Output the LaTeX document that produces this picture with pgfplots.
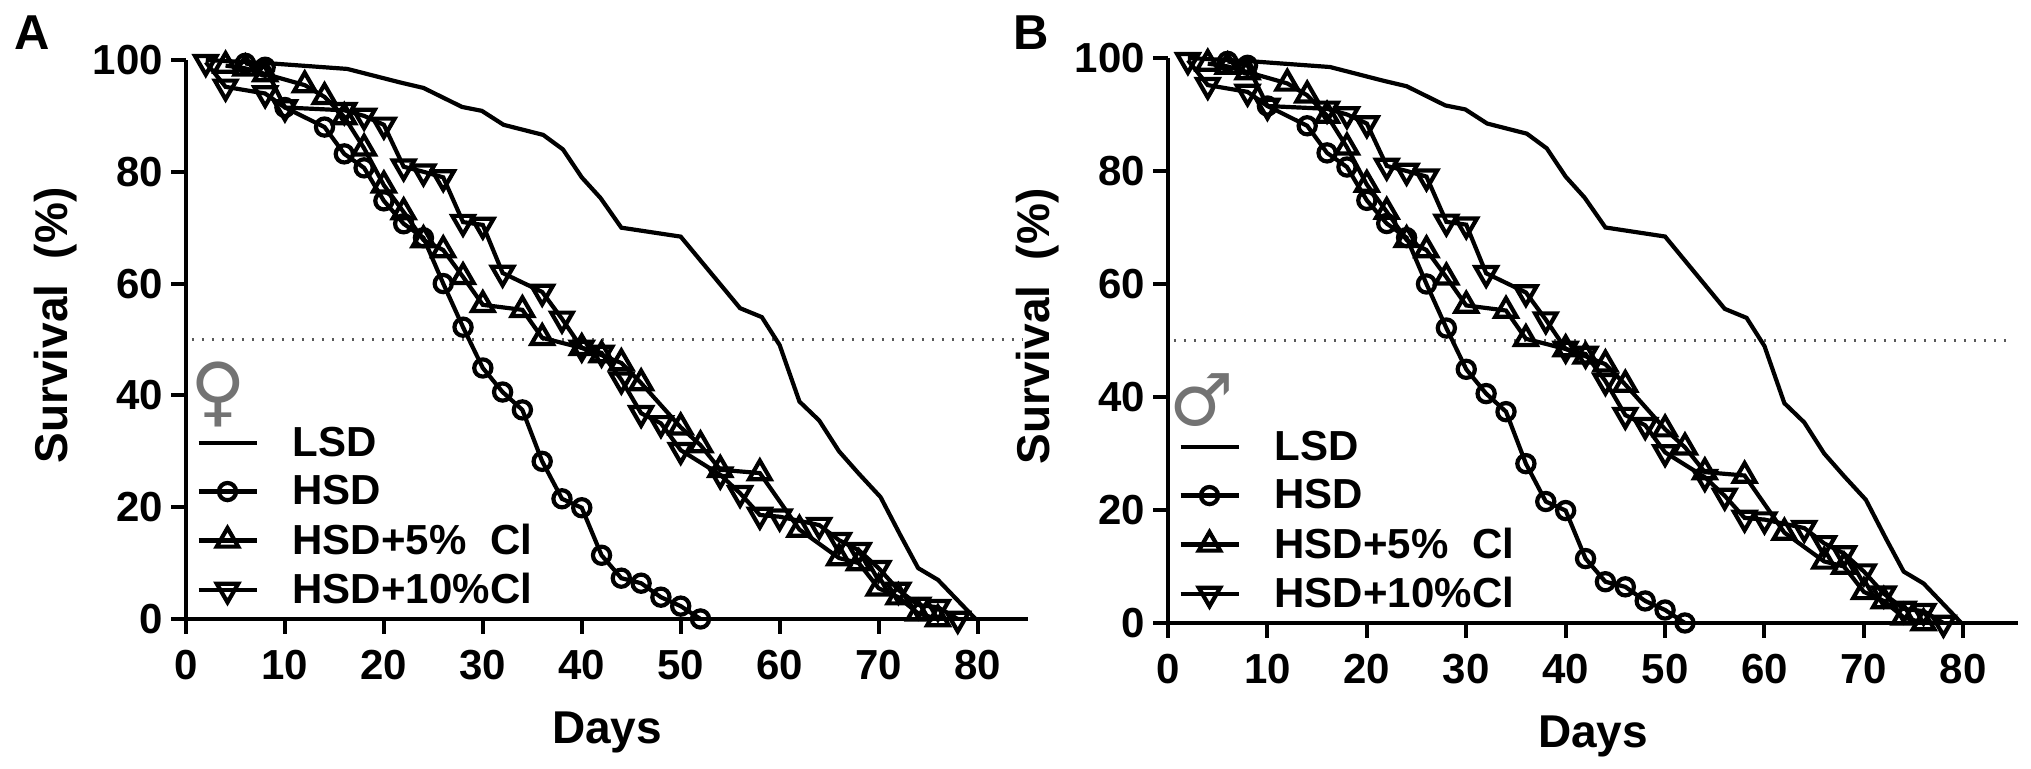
\documentclass[border=0pt]{standalone}
\usepackage{fontspec}
\setmainfont{Liberation Sans}
\newfontfamily\symfont{DejaVu Sans}
\usepackage{pgfplots}
\usepackage{pgfplotstable}
\pgfplotsset{compat=1.18}

% day, survival
\pgfplotstableread{
x y
2 100
8.5 99.4
16.3 98.4
21.6 96
24 95
27.9 91.6
29.9 90.9
32.1 88.4
36.1 86.6
38.1 84
40 79
41.9 75.3
44 70
50 68.4
56 55.6
58.2 54
60 49
62 38.9
64 35.5
66 30
68 26
70.2 21.8
72.2 15
74 9.1
76 7
79.8 0
}\lsd
\pgfplotstableread{
x y
6 99.4
8 98.7
10 91.5
14 88
16 83.2
18 80.7
20 74.8
22 70.7
24 68.2
26 60
28 52.2
30 44.9
32 40.6
34 37.4
36 28.2
38 21.5
40 19.9
42 11.4
44 7.3
46 6.4
48 3.9
50 2.3
52 0
}\hsd
\pgfplotstableread{
x y
4 99
6 98.5
8 97.5
12 95.5
14 93.4
16 89.8
18 84.2
20 77.6
22 72.8
24 67.8
26 66
28 61.2
30 56.2
34 55.3
36 50.3
40 48.5
42 47.2
44 45.8
46 42.2
50 34.3
52 31.1
54 26.7
58 26.1
62 16
66 10.9
68 10
70 5.5
72 3.9
74 1
76 0
}\hsdfive
\pgfplotstableread{
x y
2 99.6
4 95.2
8 94
10 91.5
16 91
18 90
20 88.4
22 80.9
24 80
26 79
28 71
30 70.5
32 61.9
36 58.5
38 53.7
40 48.5
42 47.6
44 42.8
46 36.8
48 35
50 30.2
54 25.8
56 22.5
58 18.6
60 18.3
64 16.8
66 14.1
68 12.3
70 9.1
72 5.2
74 2.5
76 2.1
78 0
}\hsdten

\pgfplotsset{
  survival/.style={
    scale only axis,
    anchor=south west,
    axis lines=left,
    axis line style={-,line width=2.2pt},
    clip=false,
    xmin=0, ymin=0, ymax=100,
    xtick={0,10,...,80},
    ytick={0,20,...,100},
    tick align=outside,
    major tick length=7.5pt,
    every tick/.style={black,line width=2pt},
    /pgf/number format/assume math mode=true,
    tick label style={font=\fontsize{21}{25}\selectfont\bfseries},
    xticklabel style={yshift=-4.5pt},
    yticklabel style={xshift=-0.5pt},
    label style={font=\fontsize{23}{27}\selectfont\bfseries},
    xlabel={Days},
    ylabel={Survival\ \ (\%)},
    xlabel style={yshift=-9pt},
    ylabel style={yshift=1.2pt,xshift=7pt},
    legend image code/.code={
      \draw[mark repeat=2,mark phase=2,##1] plot coordinates {(0pt,0pt)(14.5pt,0pt)(29pt,0pt)};},
    legend style={draw=none,fill=none,at={(axis cs:0,0)},anchor=south west,
      xshift=2pt,yshift=2pt,row sep=4pt,cells={anchor=west},
      font=\fontsize{21}{25}\selectfont\bfseries},
    legend cell align=left,
  },
  curve/.style={black,line width=2.1pt},
  lsdstyle/.style={curve,no markers},
  hsdstyle/.style={curve,mark=o,mark size=4.3pt,mark options={solid,fill=none,line width=2.1pt}},
  fivestyle/.style={curve,mark=triangle,mark size=6.2pt,mark options={solid,fill=none,line width=2.1pt}},
  tenstyle/.style={curve,mark=triangle,mark size=6.2pt,mark options={solid,fill=none,rotate=180,line width=2.1pt}},
}

\newcommand{\curves}{
  \addplot[black!65,line width=1.2pt,dash pattern=on 1.2pt off 3.8pt,forget plot] coordinates {(0.6,50) (84.5,50)};
  \addplot[lsdstyle] table {\lsd};
  \addlegendentry{\hspace*{15pt}LSD}
  \addplot[hsdstyle] table {\hsd};
  \addlegendentry{\hspace*{15pt}HSD}
  \addplot[fivestyle] table {\hsdfive};
  \addlegendentry{\hspace*{15pt}\makebox[99pt][l]{HSD+5\%}Cl}
  \addplot[tenstyle] table {\hsdten};
  \addlegendentry{\hspace*{15pt}\makebox[99pt][l]{HSD+10\%}Cl}
}

\begin{document}
\begin{tikzpicture}
\path[use as bounding box] (0,0) rectangle (1015.5pt,384.5pt);
\begin{axis}[survival,at={(93pt,75pt)},width=421pt,height=279.5pt,xmax=85.1]
  \curves
  \node[text=black!55,inner sep=0pt] at (axis cs:3.3,40.2) {\symfont\fontsize{38}{38}\selectfont ♀};
\end{axis}
\begin{axis}[survival,at={(584pt,73pt)},width=425pt,height=282.5pt,xmax=85.5]
  \curves
  \node[text=black!55,inner sep=0pt] at (axis cs:3.4,39.5) {\symfont\fontsize{36}{36}\selectfont ♂};
\end{axis}
\node[font=\fontsize{24.5}{28}\selectfont\bfseries] at (16pt,368pt) {A};
\node[font=\fontsize{24.5}{28}\selectfont\bfseries] at (515.5pt,368pt) {B};
\end{tikzpicture}
\end{document}
